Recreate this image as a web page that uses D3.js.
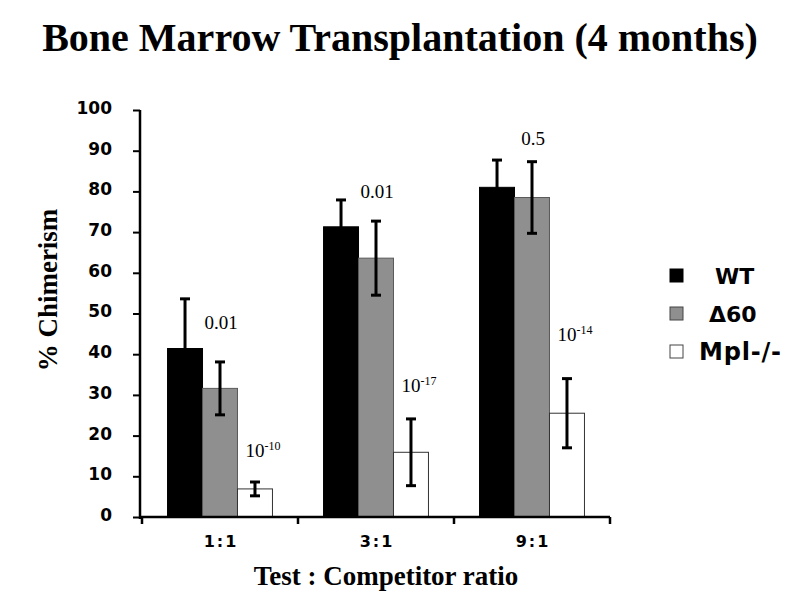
<!DOCTYPE html>
<html>
<head>
<meta charset="utf-8">
<script src="https://cdn.jsdelivr.net/npm/d3@7"></script>
<style>
  html, body { margin: 0; padding: 0; background: #fff; }
  svg { display: block; }
</style>
</head>
<body>
<svg id="chart" width="800" height="602"></svg>
<script>
// ---- data ----
const categories = ["1:1", "3:1", "9:1"];
const seriesNames = ["WT", "\u039460", "Mpl-/-"];
const wtValues   = [41.4, 71.3, 81.0];
const wtErrors   = [12.2, 6.6, 6.7];
const d60Values  = [31.6, 63.6, 78.5];
const d60Errors  = [6.5, 9.1, 8.8];
const mplValues  = [6.9, 15.9, 25.5];
const mplErrors  = [1.7, 8.2, 8.5];
const yTicks     = [0, 10, 20, 30, 40, 50, 60, 70, 80, 90, 100];
// p-value annotations (text, and the value height of their baseline)
const pWtD60Text   = ["0.01", "0.01", "0.5"];
const pWtD60At     = [46.2, 78.4, 91.4];
const pMplExponent = ["-10", "-17", "-14"];
const pMplAt       = [14.7, 30.7, 43.2];

const values = [wtValues, d60Values, mplValues];
const errors = [wtErrors, d60Errors, mplErrors];
const fills   = ["#000000", "#8f8f8f", "#ffffff"];
const strokes = ["#000000", "#5a5a5a", "#333333"];

const svg = d3.select("#chart");

const x0 = d3.scaleBand().domain(categories).range([142, 610]).paddingInner(0).paddingOuter(0);
const x1 = d3.scaleBand().domain(seriesNames).range([0, x0.bandwidth()]).paddingInner(0).paddingOuter(0.73);
const y = d3.scaleLinear().domain([0, 100]).range([517, 110]);

const serif = "'Liberation Serif', 'Times New Roman', serif";
const sans = "'DejaVu Sans', Verdana, sans-serif";

// title
svg.append("text")
  .attr("x", 400).attr("y", 51)
  .attr("text-anchor", "middle")
  .attr("font-family", serif).attr("font-weight", "bold").attr("font-size", 40)
  .text("Bone Marrow Transplantation (4 months)");

// bars
const rows = [];
categories.forEach((c, i) => {
  seriesNames.forEach((s, j) => {
    rows.push({ cat: c, ser: s, j, v: values[j][i], e: errors[j][i] });
  });
});

const g = svg.append("g");
g.selectAll("rect.bar").data(rows).join("rect")
  .attr("class", "bar")
  .attr("x", d => x0(d.cat) + x1(d.ser))
  .attr("y", d => y(d.v))
  .attr("width", x1.bandwidth())
  .attr("height", d => y(0) - y(d.v))
  .attr("fill", d => fills[d.j])
  .attr("stroke", d => strokes[d.j])
  .attr("stroke-width", 1);

// error bars
const cap = 5;
const eb = g.selectAll("g.err").data(rows).join("g").attr("class", "err")
  .attr("stroke", "#000").attr("stroke-width", 3);
eb.append("line")
  .attr("x1", d => x0(d.cat) + x1(d.ser) + x1.bandwidth() / 2)
  .attr("x2", d => x0(d.cat) + x1(d.ser) + x1.bandwidth() / 2)
  .attr("y1", d => y(d.v - d.e))
  .attr("y2", d => y(d.v + d.e));
eb.append("line")
  .attr("x1", d => x0(d.cat) + x1(d.ser) + x1.bandwidth() / 2 - cap)
  .attr("x2", d => x0(d.cat) + x1(d.ser) + x1.bandwidth() / 2 + cap)
  .attr("y1", d => y(d.v + d.e)).attr("y2", d => y(d.v + d.e));
eb.append("line")
  .attr("x1", d => x0(d.cat) + x1(d.ser) + x1.bandwidth() / 2 - cap)
  .attr("x2", d => x0(d.cat) + x1(d.ser) + x1.bandwidth() / 2 + cap)
  .attr("y1", d => y(d.v - d.e)).attr("y2", d => y(d.v - d.e));

// y axis
const yAxis = svg.append("g").attr("transform", "translate(140,0)")
  .call(d3.axisLeft(y).tickValues(yTicks).tickSize(7).tickSizeOuter(0).tickPadding(21));
yAxis.select(".domain").attr("stroke", "#000").attr("stroke-width", 2.5)
  .attr("d", `M0,${y(100)}V${y(0) + 2}`);
yAxis.selectAll(".tick line").attr("stroke", "#000").attr("stroke-width", 2);
yAxis.selectAll(".tick text")
  .attr("font-family", sans).attr("font-weight", "bold").attr("font-size", 17)
  .attr("fill", "#000").attr("dy", "0.2em");

// x axis
const xAxisG = svg.append("g").attr("transform", `translate(0,${y(0)})`);
xAxisG.append("line")
  .attr("x1", 140).attr("x2", x0.range()[1])
  .attr("stroke", "#000").attr("stroke-width", 2.5);
const bounds = categories.map(c => x0(c)).concat([x0(categories[categories.length - 1]) + x0.bandwidth()]);
xAxisG.selectAll("line.xt").data(bounds).join("line")
  .attr("class", "xt")
  .attr("x1", d => d).attr("x2", d => d)
  .attr("y1", 0).attr("y2", 7)
  .attr("stroke", "#000").attr("stroke-width", 2.5);
xAxisG.selectAll("text.xl").data(categories).join("text")
  .attr("class", "xl")
  .attr("x", d => x0(d) + x0.bandwidth() / 2 + 1)
  .attr("y", 30)
  .attr("text-anchor", "middle")
  .attr("font-family", sans).attr("font-weight", "bold").attr("font-size", 16)
  .attr("letter-spacing", 2)
  .text(d => d);

// axis titles
svg.append("text")
  .attr("x", 386).attr("y", 585)
  .attr("text-anchor", "middle")
  .attr("font-family", serif).attr("font-weight", "bold").attr("font-size", 27)
  .text("Test : Competitor ratio");
svg.append("text")
  .attr("transform", "translate(57,290) rotate(-90)")
  .attr("text-anchor", "middle")
  .attr("font-family", serif).attr("font-weight", "bold").attr("font-size", 27)
  .text("% Chimerism");

// p-value annotations
svg.selectAll("text.p1").data(categories).join("text")
  .attr("class", "p1")
  .attr("x", d => x0(d) + x0.bandwidth() / 2 + 1)
  .attr("y", (d, i) => y(pWtD60At[i]))
  .attr("text-anchor", "middle")
  .attr("font-family", serif).attr("font-size", 19)
  .text((d, i) => pWtD60Text[i]);

const p2 = svg.selectAll("text.p2").data(categories).join("text")
  .attr("class", "p2")
  .attr("x", d => x0(d) + x1(seriesNames[2]) + 8)
  .attr("y", (d, i) => y(pMplAt[i]))
  .attr("font-family", serif).attr("font-size", 19);
p2.append("tspan").text("10");
p2.append("tspan").attr("font-size", 12).attr("dy", -7).text((d, i) => pMplExponent[i]);

// legend
const legendY = [276, 314, 352];
const legendTextX = [715, 709, 699];
const lg = svg.selectAll("g.leg").data(seriesNames).join("g").attr("class", "leg");
lg.append("rect")
  .attr("x", 670).attr("y", (d, i) => legendY[i] - 7)
  .attr("width", 13).attr("height", 13)
  .attr("fill", (d, i) => fills[i])
  .attr("stroke", (d, i) => i === 0 ? "#000" : "#444")
  .attr("stroke-width", 1);
lg.append("text")
  .attr("x", (d, i) => legendTextX[i])
  .attr("y", (d, i) => legendY[i] + 8)
  .attr("font-family", sans).attr("font-weight", "bold").attr("font-size", (d, i) => i === 2 ? 24 : 22)
  .attr("letter-spacing", (d, i) => i === 2 ? 0.8 : 0)
  .text(d => d);
</script>
</body>
</html>
